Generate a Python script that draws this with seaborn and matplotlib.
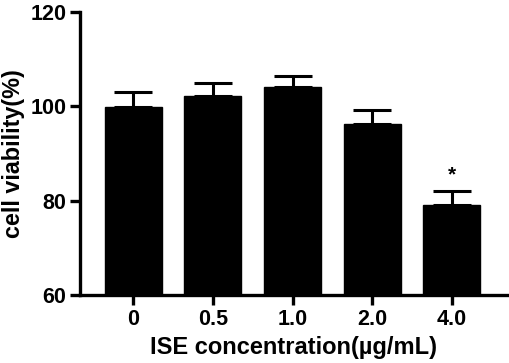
import numpy as np
import pandas as pd
import matplotlib
matplotlib.use("Agg")
from matplotlib import pyplot as plt
import seaborn as sns

concentrations = ["0", "0.5", "1.0", "2.0", "4.0"]
viability = [99.8, 102.3, 104.2, 96.2, 79.0]
sd = [3.2, 2.7, 2.2, 3.0, 3.0]
significance = ["", "", "", "", "*"]

df = pd.DataFrame({"conc": concentrations, "viability": viability, "sd": sd})

sns.set_style("ticks", {"axes.edgecolor": "black", "text.color": "black",
                        "xtick.color": "black", "ytick.color": "black",
                        "axes.labelcolor": "black"})
plt.rcParams["font.family"] = ["Liberation Sans", "DejaVu Sans"]
plt.rcParams["font.weight"] = "bold"

fig = plt.figure(figsize=(5.1, 3.63), dpi=100)
ax = fig.add_axes([0.157, 0.187, 0.837, 0.780])

sns.barplot(data=df, x="conc", y="viability", color="black", saturation=1,
            width=0.715, errorbar=None, ax=ax)
for p in ax.patches:
    p.set_edgecolor("black")

xs = np.arange(len(concentrations))
ax.errorbar(xs, df["viability"], yerr=[np.zeros(len(sd)), df["sd"]], fmt="none",
            ecolor="black", elinewidth=2.2, capsize=13.5, capthick=2.2)

for x, v, s, mark in zip(xs, viability, sd, significance):
    if mark:
        ax.text(x, v + s + 1.4, mark, ha="center", va="bottom", fontsize=15, fontweight="bold")

ax.set_ylim(60, 120)
ax.set_yticks([60, 80, 100, 120])
ax.set_xlim(-0.665, 4.69)

for side in ["top", "right"]:
    ax.spines[side].set_visible(False)
for side in ["left", "bottom"]:
    ax.spines[side].set_linewidth(2.4)
ax.tick_params(axis="both", width=2.4, length=7, labelsize=15.5, pad=3)
for lab in ax.get_xticklabels() + ax.get_yticklabels():
    lab.set_fontweight("bold")

ax.set_xlabel("ISE concentration(µg/mL)", fontsize=17, fontweight="bold", labelpad=4)
ax.set_ylabel("cell viability(%)", fontsize=16.8, fontweight="bold")
ax.yaxis.set_label_coords(-0.128, 0.5)

fig.savefig("out.png", dpi=100)
